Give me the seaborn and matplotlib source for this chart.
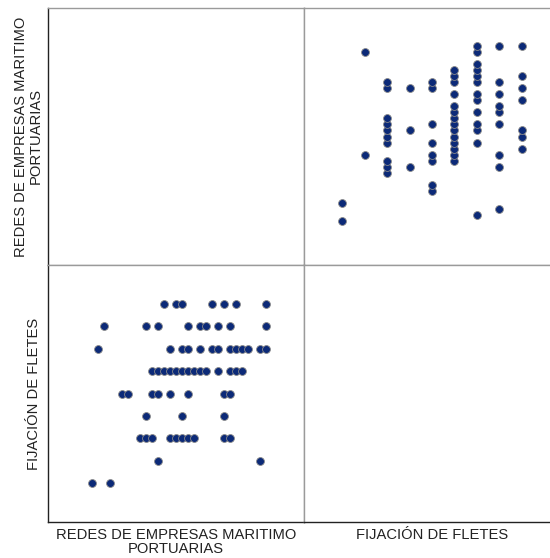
import numpy as np
import pandas as pd
import matplotlib
matplotlib.use("Agg")
import matplotlib.pyplot as plt
import seaborn as sns

# FIJACION DE FLETES levels (9 levels) and the REDES scores observed at each level
fij_levels = [1, 2, 3, 4, 5, 6, 7, 8, 9]
redes_by_fij = [
    [0, 3],
    [11, 28],
    [8, 9, 10, 13, 14, 15, 16, 17, 22, 23],
    [9, 15, 22],
    [5, 6, 10, 11, 13, 16, 22, 23],
    [10, 11, 12, 13, 14, 15, 16, 17, 18, 19, 21, 23, 24, 25],
    [1, 13, 15, 16, 18, 20, 21, 23, 24, 25, 26, 28, 29],
    [2, 9, 11, 16, 18, 19, 21, 23, 29],
    [12, 14, 15, 20, 22, 24, 29],
]

var_redes = "REDES DE EMPRESAS MARITIMO\nPORTUARIAS"
var_fij = "FIJACIÓN DE FLETES"

rows = []
for lvl, vals in zip(fij_levels, redes_by_fij):
    for v in vals:
        rows.append({"redes": v, "fij": lvl})
df = pd.DataFrame(rows)

sns.set_style("white")
plt.rcParams["font.family"] = ["Liberation Sans", "DejaVu Sans"]

fig = plt.figure(figsize=(5.5, 5.58), dpi=100)

W, H = 550.0, 558.0
pw, ph = 256.0, 257.0
x0, xm = 48.0, 304.0
y_top, y_mid = 8.0, 265.0

def add_panel(px, py):
    return fig.add_axes([px / W, 1 - (py + ph) / H, pw / W, ph / H])

ax_tl = add_panel(x0, y_top)
ax_tr = add_panel(xm, y_top)
ax_bl = add_panel(x0, y_mid)
ax_br = add_panel(xm, y_mid)

redes_lim = (-7.35, 35.35)
fij_lim = (-0.72, 10.72)

dot = dict(s=32, color="#0c2a78", edgecolor="#8a8a8a", linewidth=0.6, legend=False)
sns.scatterplot(data=df, x="fij", y="redes", ax=ax_tr, **dot)
sns.scatterplot(data=df, x="redes", y="fij", ax=ax_bl, **dot)

ax_tr.set_xlim(fij_lim); ax_tr.set_ylim(redes_lim)
ax_bl.set_xlim(redes_lim); ax_bl.set_ylim(fij_lim)
ax_tl.set_xlim(redes_lim); ax_tl.set_ylim(redes_lim)
ax_br.set_xlim(fij_lim); ax_br.set_ylim(fij_lim)

for ax in [ax_tl, ax_tr, ax_bl, ax_br]:
    ax.set_xticks([]); ax.set_yticks([])
    ax.set_xlabel(""); ax.set_ylabel("")
    for sp in ax.spines.values():
        sp.set_color("#9a9a9a")
        sp.set_linewidth(1.0)

for ax in [ax_tl, ax_bl]:
    ax.spines["left"].set_color("#222222")
for ax in [ax_bl, ax_br]:
    ax.spines["bottom"].set_color("#222222")

lab = dict(fontsize=10.6, color="#222222", linespacing=1.0)
ax_tl.set_ylabel(var_redes, labelpad=4, **lab)
ax_bl.set_ylabel(var_fij, labelpad=5, **lab)
ax_bl.set_xlabel(var_redes, labelpad=4, **lab)
ax_br.set_xlabel(var_fij, labelpad=4, **lab)

fig.savefig("out.png", dpi=100)
